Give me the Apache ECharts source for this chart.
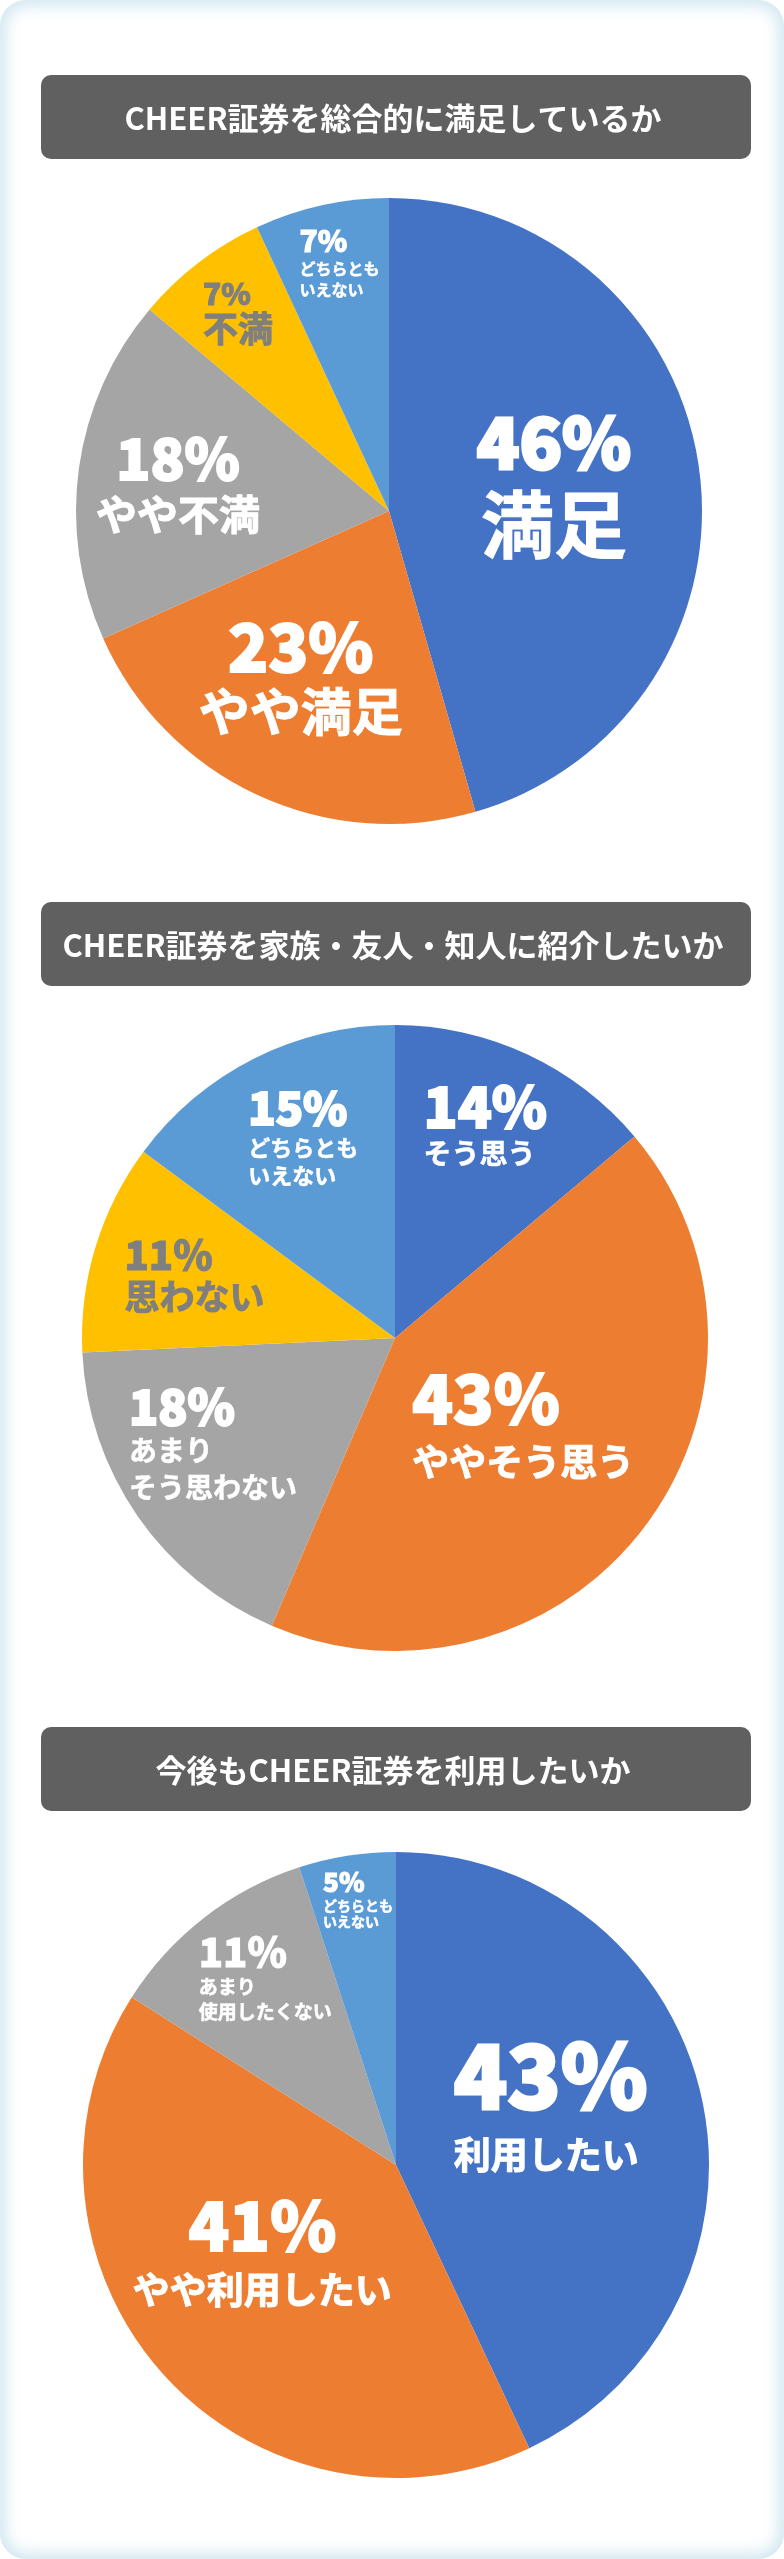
<!DOCTYPE html>
<html>
<head>
<meta charset="utf-8">
<script src="https://cdn.jsdelivr.net/npm/echarts@6/dist/echarts.min.js"></script>
<style>
	body { margin: 0; background: #fff; }
	#card {
		position: absolute; left: 0; top: 0; width: 784px; height: 2559px;
		border-radius: 26px; background: #fff;
		box-shadow: inset 0 0 16px 5px rgba(196, 224, 236, 0.85);
	}
	#main { position: absolute; left: 0; top: 0; width: 784px; height: 2559px; }
</style>
</head>
<body>
<div id="card"></div>
<div id="main"></div>
<script>
var titles = ['CHEER証券を総合的に満足しているか', 'CHEER証券を家族・友人・知人に紹介したいか', '今後もCHEER証券を利用したいか']

var satisfyNames = ['満足', 'やや満足', 'やや不満', '不満', 'どちらとも\nいえない']
var satisfyValues = [46, 23, 18, 7, 7]

var recommendNames = ['そう思う', 'ややそう思う', 'あまり\nそう思わない', '思わない', 'どちらとも\nいえない']
var recommendValues = [14, 43, 18, 11, 15]

var useNames = ['利用したい', 'やや利用したい', 'あまり\n使用したくない', 'どちらとも\nいえない']
var useValues = [43, 41, 11, 5]

var BLUE = '#4472C4', ORANGE = '#ED7D31', GRAY = '#A5A5A5', YELLOW = '#FFC000', SKY = '#5B9BD5'
var FONT = '"Noto Sans CJK JP", "Noto Sans CJK SC", sans-serif'

// label look per slice: [percent size, percent lineHeight, name size, name lineHeight, align, color, dx, dy]
var satisfyLook = [
	[70, 80, 73, 85, 'center', '#fff', 7, -4],
	[66, 70, 51, 59, 'center', '#fff', -21, 21],
	[56, 60, 41, 53, 'center', '#fff', -53, -4],
	[30, 34, 35, 36, 'left', '#7F7F7F', -54, -73],
	[30, 36, 16, 21, 'left', '#fff', -15, -94]
]
var recommendLook = [
	[56, 62, 28, 32, 'left', '#fff', 23, -71],
	[67, 74, 37, 52, 'left', '#fff', 0, -8],
	[48, 50, 28, 37, 'left', '#fff', -51, 15],
	[40, 44, 35, 40, 'left', '#7F7F7F', -48, -17],
	[45, 53, 22, 28, 'left', '#fff', -20, -60]
]
var useLook = [
	[88, 100, 37, 59, 'left', '#fff', -1, -25],
	[67, 74, 37, 54, 'center', '#fff', -14, -18],
	[40, 44, 19, 25, 'left', '#fff', -33, -62],
	[26, 30, 14, 16, 'left', '#fff', -13, -109]
]

function buildData(names, values, colors, look) {
	var list = []
	names.forEach(function(name, i) {
		var lk = look[i]
		list.push({
			name: name,
			value: values[i],
			itemStyle: { color: colors[i] },
			label: {
				color: lk[5],
				rich: {
					// heavy stroke in the text colour to thicken the digits
					p: {
						fontSize: lk[0], lineHeight: lk[1], fontWeight: 900, fontFamily: FONT,
						color: lk[5], align: lk[4],
						textBorderColor: lk[5], textBorderWidth: Math.max(1, Math.round(lk[0] / 28))
					},
					t: {
						fontSize: lk[2], lineHeight: lk[3], fontWeight: 700, fontFamily: FONT,
						color: lk[5], align: lk[4],
						textBorderColor: lk[5], textBorderWidth: lk[2] > 30 ? 1 : 0.5
					}
				}
			}
		})
	})
	return list
}

function pieSeries(center, data, look) {
	return {
		type: 'pie',
		center: center,
		radius: 313,
		startAngle: 90,
		clockwise: true,
		silent: true,
		animation: false,
		itemStyle: { borderWidth: 0 },
		label: {
			show: true,
			position: 'inside',
			formatter: function(params) {
				var lines = ['{p|' + params.value + '%}']
				params.name.split('\n').forEach(function(s) {
					lines.push('{t|' + s + '}')
				})
				return lines.join('\n')
			}
		},
		labelLine: { show: false },
		labelLayout: function(params) {
			var lk = look[params.dataIndex]
			return { dx: lk[6], dy: lk[7], hideOverlap: false }
		},
		data: data
	}
}

function titleBox(top, text) {
	return {
		type: 'group',
		children: [{
			type: 'rect',
			shape: { x: 41, y: top, width: 710, height: 84, r: 10 },
			style: { fill: '#606060' }
		}, {
			type: 'text',
			style: {
				text: text,
				x: 393,
				y: top + 43,
				fill: '#fff',
				fontSize: 31,
				fontWeight: 'bold',
				fontFamily: FONT,
				textAlign: 'center',
				textVerticalAlign: 'middle'
			}
		}]
	}
}

var myEchart = echarts.init(document.getElementById('main'))
var option = {
	backgroundColor: 'transparent',
	graphic: [
		titleBox(75, titles[0]),
		titleBox(902, titles[1]),
		titleBox(1727, titles[2])
	],
	series: [
		pieSeries([389, 511], buildData(satisfyNames, satisfyValues, [BLUE, ORANGE, GRAY, YELLOW, SKY], satisfyLook), satisfyLook),
		pieSeries([395, 1338], buildData(recommendNames, recommendValues, [BLUE, ORANGE, GRAY, YELLOW, SKY], recommendLook), recommendLook),
		pieSeries([396, 2165], buildData(useNames, useValues, [BLUE, ORANGE, GRAY, SKY], useLook), useLook)
	]
}
myEchart.setOption(option)
</script>
</body>
</html>
